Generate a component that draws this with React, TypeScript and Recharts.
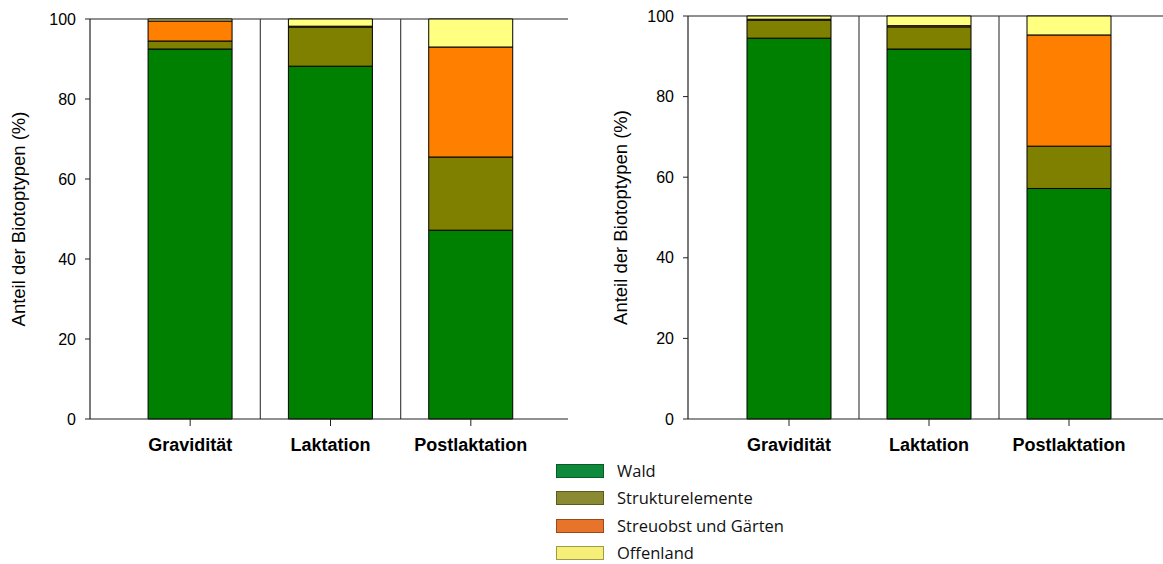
import React from 'react';
import { BarChart, Bar, XAxis, YAxis, CartesianGrid, ReferenceLine } from 'recharts';

const categories = ['Gravidität', 'Laktation', 'Postlaktation'];
const seriesNames = ['Wald', 'Strukturelemente', 'Streuobst und Gärten', 'Offenland'];
const barColors = ['#008000', '#808000', '#FF8000', '#FFFF80'];
const legendColors = ['#0E8A3C', '#8A8A32', '#E8732A', '#F5EF78'];
const yTicks = [0, 20, 40, 60, 80, 100];
const separatorCategories = ['Laktation', 'Postlaktation'];

// left panel
const leftWald = [92.5, 88.2, 47.2];
const leftStruktur = [2.0, 9.8, 18.3];
const leftStreuobst = [5.0, 0.2, 27.5];
const leftOffenland = [0.5, 1.8, 7.0];

// right panel
const rightWald = [94.5, 91.8, 57.2];
const rightStruktur = [4.5, 5.5, 10.5];
const rightStreuobst = [0.2, 0.3, 27.6];
const rightOffenland = [0.8, 2.4, 4.7];

const keys = ['wald', 'struktur', 'streuobst', 'offenland'];

const buildData = (a: number[], b: number[], c: number[], d: number[]) =>
  categories.map((name, i) => ({ name, wald: a[i], struktur: b[i], streuobst: c[i], offenland: d[i] }));

const leftData = buildData(leftWald, leftStruktur, leftStreuobst, leftOffenland);
const rightData = buildData(rightWald, rightStruktur, rightStreuobst, rightOffenland);

const FONT = '"Liberation Sans", Arial, sans-serif';

type PanelProps = {
  data: any[];
  width: number;
  top: number;
  yWidth: number;
  right: number;
  padL: number;
  padR: number;
  labelOffset: number;
};

const Panel = ({ data, width, top, yWidth, right, padL, padR, labelOffset }: PanelProps) => (
  <BarChart
    width={width}
    height={470}
    data={data}
    margin={{ top, right, bottom: 0, left: 0 }}
    barCategoryGap="20%"
  >
    <CartesianGrid vertical={false} horizontalValues={[100]} stroke="#222" strokeWidth={1.2} />
    <XAxis
      dataKey="name"
      height={51}
      padding={{ left: padL, right: padR }}
      tickSize={7}
      tickMargin={12}
      axisLine={{ stroke: '#222', strokeWidth: 1.2 }}
      tickLine={{ stroke: '#222' }}
      tick={{ fill: '#000', fontSize: 18, fontWeight: 'bold', fontFamily: FONT }}
    />
    <YAxis
      width={yWidth}
      domain={[0, 100]}
      ticks={yTicks}
      tickSize={5}
      tickMargin={9}
      axisLine={{ stroke: '#222', strokeWidth: 1.2 }}
      tickLine={{ stroke: '#222' }}
      tick={{ fill: '#000', fontSize: 16, fontFamily: FONT }}
      label={{
        value: 'Anteil der Biotoptypen (%)',
        angle: -90,
        position: 'insideLeft',
        offset: labelOffset,
        style: { textAnchor: 'middle', fontSize: 18.5, fontFamily: FONT, fill: '#000' },
      }}
    />
    <YAxis
      yAxisId="frame"
      orientation="right"
      width={0}
      domain={[0, 100]}
      tick={false}
      tickLine={false}
      axisLine={{ stroke: '#222', strokeWidth: 1.2 }}
    />
    {separatorCategories.map((c) => (
      <ReferenceLine key={c} x={c} position="start" stroke="#444" strokeWidth={1.2} />
    ))}
    {keys.map((k, i) => (
      <Bar
        key={k}
        dataKey={k}
        name={seriesNames[i]}
        stackId="s"
        fill={barColors[i]}
        stroke="#000"
        strokeWidth={1}
        isAnimationActive={false}
      />
    ))}
  </BarChart>
);

const Legend = () => (
  <div style={{ position: 'absolute', left: 556, top: 457, fontFamily: '"Open Sans", "Noto Sans", sans-serif', fontSize: 16.5, lineHeight: 1, color: '#111' }}>
    {seriesNames.map((n, i) => (
      <div key={n} style={{ display: 'flex', alignItems: 'center', height: 27.5 }}>
        <div style={{ width: 46, height: 12, background: legendColors[i], border: '1px solid rgba(0,0,0,0.35)', marginRight: 13 }} />
        <span>{n}</span>
      </div>
    ))}
  </div>
);

export default function App() {
  return (
    <div style={{ position: 'absolute', left: 0, top: 0, width: 1163, height: 564, overflow: 'hidden', background: '#fff' }}>
      <div style={{ position: 'absolute', left: 0, top: 0 }}>
        <Panel data={leftData} width={600} top={19} yWidth={90} right={32} padL={30} padR={27} labelOffset={18} />
      </div>
      <div style={{ position: 'absolute', left: 600, top: 0 }}>
        <Panel data={rightData} width={566} top={16} yWidth={88} right={0} padL={31} padR={27} labelOffset={20} />
      </div>
      <Legend />
    </div>
  );
}
